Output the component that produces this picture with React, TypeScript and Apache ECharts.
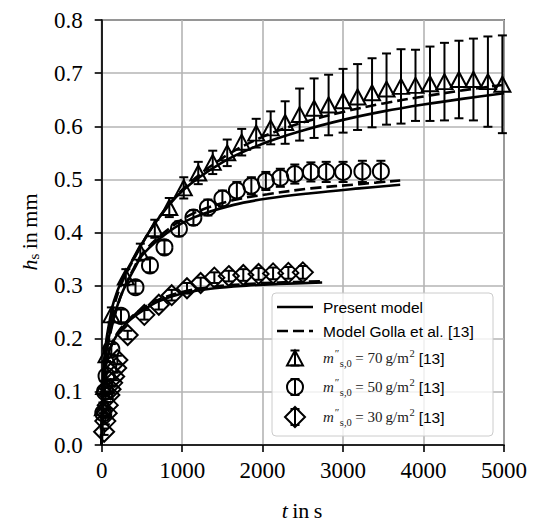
import React, { useEffect, useRef } from 'react';
import * as echarts from 'echarts';

// ---- experimental data (Golla et al. [13]) ----
const tTri = [15, 30, 60, 120, 300, 480, 660, 840, 1020, 1200, 1380, 1560, 1740, 1920, 2100, 2280, 2460, 2640, 2820, 3000, 3180, 3360, 3540, 3720, 3900, 4080, 4260, 4440, 4620, 4800, 4980];
const yTri = [0.07, 0.11, 0.17, 0.245, 0.316, 0.363, 0.407, 0.447, 0.484, 0.512, 0.532, 0.55, 0.57, 0.587, 0.597, 0.607, 0.622, 0.634, 0.64, 0.648, 0.655, 0.663, 0.67, 0.675, 0.677, 0.68, 0.684, 0.688, 0.688, 0.684, 0.679];
const eTri = [0.01, 0.01, 0.012, 0.014, 0.015, 0.016, 0.017, 0.018, 0.02, 0.021, 0.022, 0.025, 0.025, 0.027, 0.031, 0.04, 0.049, 0.056, 0.057, 0.06, 0.062, 0.065, 0.067, 0.07, 0.067, 0.07, 0.073, 0.073, 0.077, 0.085, 0.092];

const tCir = [20, 40, 60, 120, 240, 420, 600, 780, 960, 1140, 1320, 1500, 1680, 1860, 2040, 2220, 2400, 2600, 2790, 3000, 3240, 3470];
const yCir = [0.06, 0.1, 0.13, 0.18, 0.243, 0.297, 0.338, 0.372, 0.407, 0.428, 0.447, 0.464, 0.479, 0.488, 0.497, 0.503, 0.51, 0.514, 0.514, 0.514, 0.515, 0.515];
const eCir = [0.008, 0.008, 0.009, 0.01, 0.012, 0.012, 0.013, 0.013, 0.014, 0.014, 0.015, 0.015, 0.016, 0.016, 0.017, 0.017, 0.018, 0.018, 0.019, 0.019, 0.02, 0.02];

const tDia = [30, 45, 62, 75, 95, 110, 130, 155, 180, 195, 323, 530, 710, 870, 1060, 1230, 1400, 1580, 1760, 1950, 2130, 2320, 2500];
const yDia = [0.025, 0.045, 0.06, 0.075, 0.094, 0.105, 0.117, 0.129, 0.145, 0.16, 0.207, 0.245, 0.264, 0.282, 0.295, 0.305, 0.315, 0.318, 0.32, 0.322, 0.323, 0.324, 0.325];
const eDia = [0.006, 0.006, 0.006, 0.006, 0.007, 0.007, 0.007, 0.007, 0.007, 0.008, 0.008, 0.009, 0.009, 0.01, 0.01, 0.01, 0.01, 0.01, 0.011, 0.011, 0.011, 0.011, 0.012];

// ---- model curves ----
const tM70 = [0, 5, 15, 30, 60, 100, 150, 250, 400, 650, 1000, 1500, 2000, 2500, 3000, 3500, 4000, 4500, 5000];
const ySolid70 = [0, 0.07, 0.12, 0.16, 0.2, 0.235, 0.27, 0.31, 0.352, 0.415, 0.478, 0.532, 0.567, 0.592, 0.612, 0.628, 0.641, 0.652, 0.662];
const yDash70 = [0, 0.06, 0.11, 0.15, 0.19, 0.225, 0.26, 0.305, 0.35, 0.415, 0.48, 0.54, 0.58, 0.607, 0.627, 0.643, 0.656, 0.668, 0.678];

const tM50 = [0, 5, 15, 30, 60, 100, 150, 250, 400, 520, 820, 1140, 1640, 2060, 2600, 3200, 3710];
const ySolid50 = [0, 0.06, 0.1, 0.14, 0.18, 0.21, 0.24, 0.285, 0.33, 0.36, 0.4, 0.428, 0.452, 0.464, 0.474, 0.483, 0.49];
const yDash50 = [0, 0.055, 0.095, 0.135, 0.175, 0.205, 0.237, 0.285, 0.333, 0.363, 0.405, 0.436, 0.461, 0.472, 0.483, 0.491, 0.498];

const tM30 = [0, 5, 15, 30, 50, 100, 200, 350, 500, 700, 1000, 1400, 1800, 2200, 2740];
const ySolid30 = [0, 0.06, 0.1, 0.13, 0.15, 0.18, 0.21, 0.235, 0.252, 0.27, 0.285, 0.295, 0.3, 0.303, 0.306];
const yDash30 = [0, 0.055, 0.095, 0.125, 0.148, 0.18, 0.212, 0.238, 0.256, 0.273, 0.288, 0.298, 0.303, 0.306, 0.308];

const xTicks = [0, 1000, 2000, 3000, 4000, 5000];
const yTicks = [0, 0.1, 0.2, 0.3, 0.4, 0.5, 0.6, 0.7, 0.8];
const legendLines = ['Present model', 'Model Golla et al. [13]'];
const legendMass = ['70', '50', '30'];

const SERIF = '"Liberation Serif", "Times New Roman", serif';
const SANS = '"Liberation Sans", Arial, sans-serif';

const zip = (a: number[], b: number[]) => a.map((v, i) => [v, b[i]]);
const errData = (t: number[], y: number[], e: number[]) => t.map((v, i) => [v, y[i] - e[i], y[i] + e[i]]);

function measure(text: string, font: string): number {
  const c = document.createElement('canvas').getContext('2d');
  if (!c) return text.length * 8;
  c.font = font;
  return c.measureText(text).width;
}

export default function App() {
  const ref = useRef<HTMLDivElement>(null);
  useEffect(() => {
    if (!ref.current) return;
    const chart = echarts.init(ref.current, null, { renderer: 'svg' });

    const errRender = (params: any, api: any) => {
      const x = api.value(0);
      const p1 = api.coord([x, api.value(1)]);
      const p2 = api.coord([x, api.value(2)]);
      const cap = 4.5;
      const st = { stroke: '#000', lineWidth: 2 };
      return {
        type: 'group',
        children: [
          { type: 'line', shape: { x1: p1[0], y1: p1[1], x2: p2[0], y2: p2[1] }, style: st },
          { type: 'line', shape: { x1: p1[0] - cap, y1: p1[1], x2: p1[0] + cap, y2: p1[1] }, style: st },
          { type: 'line', shape: { x1: p2[0] - cap, y1: p2[1], x2: p2[0] + cap, y2: p2[1] }, style: st },
        ],
      };
    };

    const lineSeries = (data: number[][], dashed: boolean) => ({
      type: 'line',
      data,
      showSymbol: false,
      symbol: 'none',
      smooth: 0.35,
      z: 2,
      lineStyle: { color: '#000', width: 2.6, opacity: 1, type: dashed ? [11, 5] : 'solid' },
    });

    const markerStyle = { color: 'rgba(0,0,0,0)', borderColor: '#000', borderWidth: 2, opacity: 1 };

    // ---- legend graphic ----
    const lx = 295;
    const tx = 323;
    const rows = [307, 331, 358, 387, 417];
    const g: any[] = [];
    g.push({
      type: 'rect', z: 50,
      shape: { x: 272, y: 293, width: 221, height: 143, r: 4 },
      style: { fill: 'rgba(255,255,255,0.8)', stroke: '#cccccc', lineWidth: 1 },
    });
    g.push({ type: 'line', z: 51, shape: { x1: 277, y1: rows[0], x2: 313, y2: rows[0] }, style: { stroke: '#000', lineWidth: 2.6 } });
    g.push({ type: 'line', z: 51, shape: { x1: 277, y1: rows[1], x2: 313, y2: rows[1] }, style: { stroke: '#000', lineWidth: 2.6, lineDash: [11, 5] } });
    legendLines.forEach((s, i) => {
      g.push({ type: 'text', z: 51, x: tx, y: rows[i], style: { text: s, font: `15.5px ${SANS}`, fill: '#000', textVerticalAlign: 'middle' } });
    });
    const bar = (cy: number, h: number) => {
      const st = { stroke: '#000', lineWidth: 2 };
      g.push({ type: 'line', z: 51, shape: { x1: lx, y1: cy - h, x2: lx, y2: cy + h }, style: st });
      g.push({ type: 'line', z: 51, shape: { x1: lx - 4.5, y1: cy - h, x2: lx + 4.5, y2: cy - h }, style: st });
      g.push({ type: 'line', z: 51, shape: { x1: lx - 4.5, y1: cy + h, x2: lx + 4.5, y2: cy + h }, style: st });
    };
    const mst = { fill: 'none', stroke: '#000', lineWidth: 2 };
    bar(rows[2], 7.5);
    g.push({ type: 'polygon', z: 51, shape: { points: [[lx, rows[2] - 7.5], [lx - 8, rows[2] + 7.5], [lx + 8, rows[2] + 7.5]] }, style: mst });
    bar(rows[3], 8);
    g.push({ type: 'circle', z: 51, shape: { cx: lx, cy: rows[3], r: 8 }, style: mst });
    bar(rows[4], 8);
    g.push({ type: 'polygon', z: 51, shape: { points: [[lx, rows[4] - 10], [lx + 10, rows[4]], [lx, rows[4] + 10], [lx - 10, rows[4]]] }, style: mst });

    // math labels m''_{s,0} = XX g/m^2 [13]
    const mathColor = '#222';
    const fMain = `15px ${SERIF}`;
    const fIt = `italic 15px ${SERIF}`;
    const fSmall = `10.5px ${SERIF}`;
    const fPrime = `11px ${SERIF}`;
    legendMass.forEach((mass, i) => {
      const cy = rows[i + 2];
      let x = tx;
      g.push({ type: 'text', z: 51, x, y: cy, style: { text: 'm', font: fIt, fill: mathColor, textVerticalAlign: 'middle' } });
      x += measure('m', fIt) + 0.8;
      g.push({ type: 'text', z: 51, x, y: cy - 5, style: { text: '\u2033', font: fPrime, fill: mathColor, textVerticalAlign: 'middle' } });
      x += measure('\u2033', fPrime) + 0.6;
      g.push({ type: 'text', z: 51, x, y: cy + 5, style: { text: 's,0', font: fSmall, fill: mathColor, textVerticalAlign: 'middle' } });
      x += measure('s,0', fSmall) + 3.5;
      const mid = `= ${mass}\u2009g/m`;
      g.push({ type: 'text', z: 51, x, y: cy, style: { text: mid, font: fMain, fill: mathColor, textVerticalAlign: 'middle' } });
      x += measure(mid, fMain) + 0.6;
      g.push({ type: 'text', z: 51, x, y: cy - 5, style: { text: '2', font: fSmall, fill: mathColor, textVerticalAlign: 'middle' } });
      x += measure('2', fSmall) + 4;
      g.push({ type: 'text', z: 51, x, y: cy, style: { text: '[13]', font: `15.5px ${SANS}`, fill: '#000', textVerticalAlign: 'middle' } });
    });

    // axis titles
    const fAx = `22px ${SERIF}`;
    const fAxIt = `italic 22px ${SERIF}`;
    const fAxSub = `15px ${SERIF}`;
    {
      const w1 = measure('t', fAxIt);
      const w2 = measure('\u2009in\u2009s', fAx);
      const x0 = 302 - (w1 + w2) / 2;
      g.push({ type: 'text', x: x0, y: 510, style: { text: 't', font: fAxIt, fill: '#000', textVerticalAlign: 'middle' } });
      g.push({ type: 'text', x: x0 + w1, y: 510, style: { text: '\u2009in\u2009s', font: fAx, fill: '#000', textVerticalAlign: 'middle' } });
    }
    {
      const w1 = measure('h', fAxIt);
      const w2 = measure('s', fAxSub);
      const w3 = measure('\u2009in\u2009mm', fAx);
      const W = w1 + w2 + w3;
      const x0 = -W / 2;
      g.push({
        type: 'group', x: 29, y: 232, rotation: Math.PI / 2,
        children: [
          { type: 'text', x: x0, y: 0, style: { text: 'h', font: fAxIt, fill: '#000', textVerticalAlign: 'middle' } },
          { type: 'text', x: x0 + w1, y: 5, style: { text: 's', font: fAxSub, fill: '#000', textVerticalAlign: 'middle' } },
          { type: 'text', x: x0 + w1 + w2, y: 0, style: { text: '\u2009in\u2009mm', font: fAx, fill: '#000', textVerticalAlign: 'middle' } },
        ],
      });
    }

    const option: any = {
      animation: false,
      backgroundColor: '#fff',
      grid: { left: 101.7, right: 29, top: 20, bottom: 78, show: true, borderColor: '#000', borderWidth: 1.6, backgroundColor: 'transparent' },
      xAxis: {
        type: 'value', min: xTicks[0], max: xTicks[xTicks.length - 1], interval: 1000,
        axisLine: { lineStyle: { color: '#000', width: 1.6 } },
        axisTick: { show: true, length: 7, lineStyle: { color: '#000', width: 1.6 } },
        axisLabel: { color: '#000', fontFamily: SERIF, fontSize: 23, margin: 14, formatter: (v: number) => String(v) },
        splitLine: { show: true, lineStyle: { color: '#b4b4b4', width: 1.6 } },
      },
      yAxis: {
        type: 'value', min: yTicks[0], max: yTicks[yTicks.length - 1], interval: 0.1,
        axisLine: { lineStyle: { color: '#000', width: 1.6 } },
        axisTick: { show: true, length: 7, lineStyle: { color: '#000', width: 1.6 } },
        axisLabel: { color: '#000', fontFamily: SERIF, fontSize: 23, margin: 19, formatter: (v: number) => v.toFixed(1) },
        splitLine: { show: true, lineStyle: { color: '#b4b4b4', width: 1.6 } },
      },
      series: [
        lineSeries(zip(tM70, ySolid70), false),
        lineSeries(zip(tM70, yDash70), true),
        lineSeries(zip(tM50, ySolid50), false),
        lineSeries(zip(tM50, yDash50), true),
        lineSeries(zip(tM30, ySolid30), false),
        lineSeries(zip(tM30, yDash30), true),
        { type: 'custom', renderItem: errRender, data: errData(tTri, yTri, eTri), encode: { x: 0, y: [1, 2] }, z: 3, clip: false },
        { type: 'custom', renderItem: errRender, data: errData(tCir, yCir, eCir), encode: { x: 0, y: [1, 2] }, z: 3, clip: false },
        { type: 'custom', renderItem: errRender, data: errData(tDia, yDia, eDia), encode: { x: 0, y: [1, 2] }, z: 3, clip: false },
        { type: 'scatter', data: zip(tTri, yTri), symbol: 'triangle', symbolSize: [16, 15], itemStyle: markerStyle, z: 4 },
        { type: 'scatter', data: zip(tCir, yCir), symbol: 'circle', symbolSize: 16, itemStyle: markerStyle, z: 4 },
        { type: 'scatter', data: zip(tDia, yDia), symbol: 'diamond', symbolSize: 20, itemStyle: markerStyle, z: 4 },
      ],
      graphic: g,
    };
    chart.setOption(option);
    return () => chart.dispose();
  }, []);
  return <div ref={ref} style={{ position: 'absolute', left: 0, top: 0, width: 533, height: 523 }} />;
}
